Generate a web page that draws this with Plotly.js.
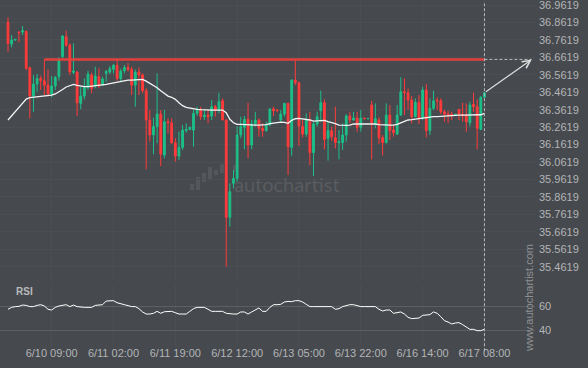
<!DOCTYPE html>
<html><head><meta charset="utf-8">
<script src="https://cdn.plot.ly/plotly-3.0.1.min.js"></script>
<style>html,body{margin:0;padding:0;background:#46494d;}#chart{width:588px;height:368px;}</style>
</head><body><div id="chart"></div>
<script>
const openP = [36.864,36.738,36.761,36.807,36.807,36.811,36.603,36.440,36.509,36.541,
36.528,36.503,36.452,36.498,36.551,36.666,36.780,36.732,36.576,36.578,
36.398,36.440,36.490,36.561,36.498,36.551,36.503,36.570,36.578,36.593,
36.616,36.540,36.585,36.604,36.593,36.503,36.578,36.561,36.471,36.303,
36.217,36.265,36.337,36.102,36.293,36.287,36.173,36.096,36.146,36.242,
36.249,36.245,36.341,36.364,36.322,36.331,36.326,36.379,36.360,36.413,
36.303,35.745,35.940,35.968,36.217,36.261,36.307,36.159,36.280,36.303,
36.255,36.242,36.274,36.366,36.360,36.303,36.337,36.398,36.146,36.532,
36.517,36.265,36.222,36.303,36.116,36.280,36.356,36.402,36.198,36.242,
36.201,36.173,36.173,36.217,36.326,36.303,36.314,36.261,36.314,36.310,
36.389,36.284,36.303,36.201,36.173,36.331,36.245,36.222,36.331,36.465,
36.459,36.417,36.322,36.404,36.312,36.475,36.242,36.370,36.417,36.413,
36.350,36.337,36.337,36.331,36.364,36.335,36.331,36.287,36.392,36.379,
36.249,36.433];
const highP = [36.891,36.790,36.767,36.811,36.841,36.815,36.608,36.561,36.566,36.557,
36.650,36.593,36.555,36.555,36.662,36.790,36.815,36.742,36.742,36.582,
36.494,36.541,36.585,36.574,36.608,36.599,36.551,36.589,36.612,36.624,
36.647,36.597,36.618,36.631,36.608,36.593,36.604,36.570,36.484,36.360,
36.316,36.570,36.360,36.360,36.312,36.312,36.198,36.236,36.274,36.284,
36.265,36.360,36.379,36.379,36.360,36.360,36.417,36.389,36.459,36.427,
36.307,35.940,36.016,36.268,36.322,36.326,36.402,36.303,36.350,36.312,
36.284,36.293,36.370,36.379,36.364,36.360,36.402,36.402,36.536,36.647,
36.522,36.303,36.341,36.350,36.293,36.350,36.471,36.421,36.293,36.265,
36.379,36.245,36.284,36.337,36.350,36.350,36.350,36.360,36.316,36.314,
36.413,36.398,36.318,36.217,36.398,36.389,36.274,36.389,36.547,36.541,
36.484,36.440,36.427,36.446,36.494,36.509,36.427,36.471,36.433,36.427,
36.360,36.356,36.350,36.335,36.364,36.402,36.398,36.408,36.459,36.421,
36.440,36.465];
const lowP = [36.694,36.719,36.757,36.748,36.790,36.589,36.312,36.350,36.465,36.475,
36.440,36.440,36.433,36.475,36.528,36.656,36.723,36.561,36.566,36.326,
36.364,36.421,36.475,36.456,36.484,36.484,36.498,36.522,36.566,36.570,
36.528,36.526,36.570,36.580,36.446,36.379,36.446,36.456,36.020,36.179,
36.106,36.169,36.039,36.083,36.226,36.165,36.064,36.074,36.131,36.230,
36.245,36.150,36.326,36.303,36.303,36.284,36.303,36.322,36.341,36.303,
35.462,35.692,35.911,35.949,36.198,36.135,36.083,36.135,36.265,36.207,
36.207,36.236,36.268,36.326,36.352,36.293,36.322,35.988,36.098,36.503,
36.154,36.203,36.207,36.045,35.982,36.265,36.293,36.135,36.070,36.184,
36.140,36.077,36.131,36.179,36.284,36.299,36.236,36.236,36.308,36.307,
36.077,36.255,36.165,36.100,36.169,36.188,36.207,36.217,36.326,36.331,
36.360,36.284,36.318,36.280,36.303,36.203,36.217,36.360,36.360,36.337,
36.293,36.284,36.303,36.326,36.303,36.293,36.236,36.265,36.350,36.135,
36.245,36.427];
const closeP = [36.742,36.761,36.765,36.803,36.815,36.599,36.440,36.509,36.541,36.528,
36.503,36.452,36.498,36.547,36.650,36.784,36.732,36.580,36.583,36.402,
36.440,36.490,36.566,36.484,36.555,36.498,36.538,36.582,36.597,36.616,
36.540,36.583,36.604,36.593,36.503,36.578,36.561,36.471,36.303,36.217,
36.265,36.337,36.108,36.293,36.287,36.173,36.096,36.146,36.245,36.249,
36.261,36.341,36.364,36.322,36.331,36.322,36.379,36.360,36.408,36.303,
35.745,35.892,35.968,36.217,36.265,36.307,36.159,36.280,36.303,36.255,
36.242,36.274,36.366,36.356,36.356,36.337,36.398,36.150,36.532,36.517,
36.268,36.222,36.303,36.116,36.280,36.322,36.402,36.192,36.242,36.207,
36.173,36.179,36.217,36.326,36.303,36.314,36.261,36.314,36.310,36.312,
36.284,36.310,36.201,36.173,36.331,36.242,36.230,36.331,36.465,36.459,
36.417,36.322,36.404,36.312,36.475,36.242,36.370,36.413,36.413,36.350,
36.337,36.331,36.331,36.335,36.335,36.329,36.293,36.389,36.379,36.255,
36.433,36.459];
const movingAvg = [36.303,36.326,36.350,36.375,36.398,36.423,36.431,36.433,36.436,36.440,
36.442,36.444,36.446,36.452,36.463,36.478,36.492,36.501,36.507,36.501,
36.496,36.494,36.494,36.496,36.498,36.499,36.503,36.507,36.511,36.515,
36.520,36.526,36.530,36.532,36.532,36.532,36.532,36.536,36.526,36.513,
36.503,36.488,36.471,36.456,36.440,36.433,36.421,36.402,36.385,36.375,
36.370,36.366,36.364,36.362,36.360,36.360,36.360,36.360,36.362,36.360,
36.345,36.307,36.287,36.278,36.278,36.276,36.276,36.274,36.274,36.274,
36.274,36.276,36.282,36.286,36.289,36.291,36.289,36.284,36.301,36.310,
36.312,36.310,36.307,36.303,36.297,36.299,36.303,36.301,36.293,36.289,
36.282,36.274,36.272,36.272,36.274,36.280,36.280,36.280,36.282,36.284,
36.282,36.280,36.276,36.274,36.274,36.274,36.274,36.278,36.287,36.295,
36.303,36.305,36.308,36.312,36.316,36.318,36.320,36.322,36.322,36.324,
36.326,36.328,36.329,36.331,36.331,36.331,36.331,36.331,36.331,36.333,
36.333,36.341];
const rsiValues = [57.3,58.9,59.5,59.7,60.8,60.5,59.5,59.5,60.5,61.1,
60.0,57.3,56.7,58.9,60.0,60.5,61.1,59.5,60.8,59.5,
58.9,58.9,58.9,58.9,60.5,61.1,61.1,64.1,64.4,64.4,
62.7,61.6,61.1,60.3,59.5,59.5,57.8,55.1,53.4,53.4,
54.0,55.6,54.0,55.3,55.6,55.6,54.5,53.4,53.4,53.4,
55.6,57.8,58.9,58.9,58.9,57.3,55.6,55.6,55.6,55.6,
54.0,53.4,53.4,53.4,55.1,55.1,53.4,55.1,56.7,58.4,
55.6,55.6,58.9,61.1,61.1,61.4,63.3,63.8,63.6,64.4,
64.4,63.3,61.4,59.5,59.5,59.5,59.5,59.5,59.5,59.5,
57.3,57.8,59.5,60.5,61.1,61.1,60.0,59.5,59.5,59.5,
59.5,59.5,57.3,55.9,56.7,56.7,54.0,54.5,55.1,53.4,
50.7,49.6,49.6,50.1,52.3,52.9,52.9,55.1,54.0,51.2,
47.9,46.8,45.2,46.0,46.3,44.7,42.5,40.8,40.8,39.7,
39.7,40.8];
const priceTicks = [35.4619,35.5619,35.6619,35.7619,35.8619,35.9619,36.0619,36.1619,36.2619,36.3619,36.4619,36.5619,36.6619,36.7619,36.8619,36.9619];
const priceTickLabels = ["35.4619","35.5619","35.6619","35.7619","35.8619","35.9619","36.0619","36.1619","36.2619","36.3619","36.4619","36.5619","36.6619","36.7619","36.8619","36.9619"];
const timeTickIndex = [12,29,46,63,80,97,114,131];
const timeTickLabels = ["6/10 09:00","6/11 02:00","6/11 19:00","6/12 12:00","6/13 05:00","6/13 22:00","6/16 14:00","6/17 08:00"];
const rsiLevels = [40,60];
const rsiLevelLabels = ["40","60"];
const resistanceLevel = 36.650;
const resistanceStartIndex = 10;
const projectionIndex = 144;

const idx = openP.map((_, i) => i);
const last = idx.length - 1;
const BG = '#46494d';
const GREEN = '#1dbf88';
const RED = '#ff3b3b';

const traces = [
  {type:'candlestick', x:idx, open:openP, high:highP, low:lowP, close:closeP,
   xaxis:'x', yaxis:'y', whiskerwidth:0,
   increasing:{line:{color:GREEN,width:1}, fillcolor:GREEN},
   decreasing:{line:{color:RED,width:1}, fillcolor:RED},
   hoverinfo:'skip'},
  {type:'scatter', mode:'lines', x:idx, y:movingAvg, xaxis:'x', yaxis:'y',
   line:{color:'#f4f4f4', width:1.3}, hoverinfo:'skip'},
  {type:'scatter', mode:'lines', x:idx, y:rsiValues, xaxis:'x', yaxis:'y2',
   line:{color:'#ffffff', width:1}, hoverinfo:'skip'}
];

const W = 535, H = 345;
function px(x){return x/W;}
function py(y){return 1 - y/H;}
const logoBars = [[190,194,184,190],[196,200,177,190],[202,206,173,182],[208,212,167,180],[214,218,170,175],[220,224,164,173],[233,237,165,172]];
const shapes = [
  {type:'line', xref:'x', yref:'y', x0:resistanceStartIndex, x1:last, y0:resistanceLevel, y1:resistanceLevel,
   line:{color:'rgba(235,64,60,0.95)', width:2.5}},
  {type:'line', xref:'x', yref:'y', x0:last, x1:projectionIndex, y0:resistanceLevel, y1:resistanceLevel,
   line:{color:'#b9bbbe', width:1, dash:'3px,2px'}},
  {type:'line', xref:'x', yref:'paper', x0:last, x1:last, y0:-0.018, y1:0.99,
   line:{color:'#b9bbbe', width:1, dash:'3px,2px'}}
];
logoBars.forEach(b => shapes.push({type:'rect', xref:'paper', yref:'paper', layer:'below',
  x0:px(b[0]), x1:px(b[1]), y0:py(b[3]), y1:py(b[2]), line:{width:0}, fillcolor:'#54575b'}));

const layout = {
  width:588, height:368,
  margin:{l:0, r:53, t:0, b:23, pad:0},
  paper_bgcolor:BG, plot_bgcolor:BG,
  showlegend:false, hovermode:false,
  font:{family:'Liberation Sans, Arial, sans-serif', size:11, color:'#b3b5b8'},
  xaxis:{range:[-2.2,144.9], anchor:'y2', tickvals:timeTickIndex, ticktext:timeTickLabels,
    showgrid:true, gridcolor:'#4b4e52', gridwidth:1, zeroline:false, showline:false, ticks:'',
    rangeslider:{visible:false}, fixedrange:true, tickfont:{size:11, color:'#b3b5b8'}},
  yaxis:{domain:[0.1884,1], range:[35.386,36.9906], side:'right', anchor:'x',
    tickvals:priceTicks, ticktext:priceTickLabels, showgrid:true, gridcolor:'#4b4e52',
    zeroline:false, showline:false, ticks:'', ticklabelstandoff:3, ticklabeloverflow:'allow',
    tickfont:{size:11, color:'#b3b5b8'}},
  yaxis2:{domain:[0,0.1739], range:[27.9,77.3], side:'right', anchor:'x',
    tickvals:rsiLevels, ticktext:rsiLevelLabels, showgrid:true, gridcolor:'#5c5f63',
    zeroline:false, showline:false, ticks:'', ticklabelstandoff:3, tickfont:{size:11, color:'#b3b5b8'}},
  shapes:shapes,
  annotations:[
    {xref:'x', yref:'y', axref:'x', ayref:'y', x:projectionIndex, y:resistanceLevel,
     ax:last, ay:closeP[last], showarrow:true, arrowhead:5, arrowsize:1.3, arrowwidth:1.2,
     arrowcolor:'#dedede', text:''},
    {xref:'paper', yref:'paper', x:px(287), y:py(184), xanchor:'center', yanchor:'middle',
     text:'autochartist', showarrow:false,
     font:{family:'Lato, Open Sans, sans-serif', size:20, color:'#595c60'}},
    {xref:'paper', yref:'paper', x:px(14), y:py(291), xanchor:'left', yanchor:'middle',
     text:'<b>RSI</b>', showarrow:false,
     font:{family:'Liberation Sans, Arial, sans-serif', size:10, color:'#b8babd'}},
    {xref:'paper', yref:'paper', x:px(529), y:py(298), xanchor:'center', yanchor:'middle',
     text:'www.autochartist.com', showarrow:false,
     textangle:-90, font:{family:'Liberation Sans, Arial, sans-serif', size:11, color:'#8e9195'}}
  ]
};

Plotly.newPlot('chart', traces, layout, {staticPlot:true, displayModeBar:false});
</script>
</body></html>
